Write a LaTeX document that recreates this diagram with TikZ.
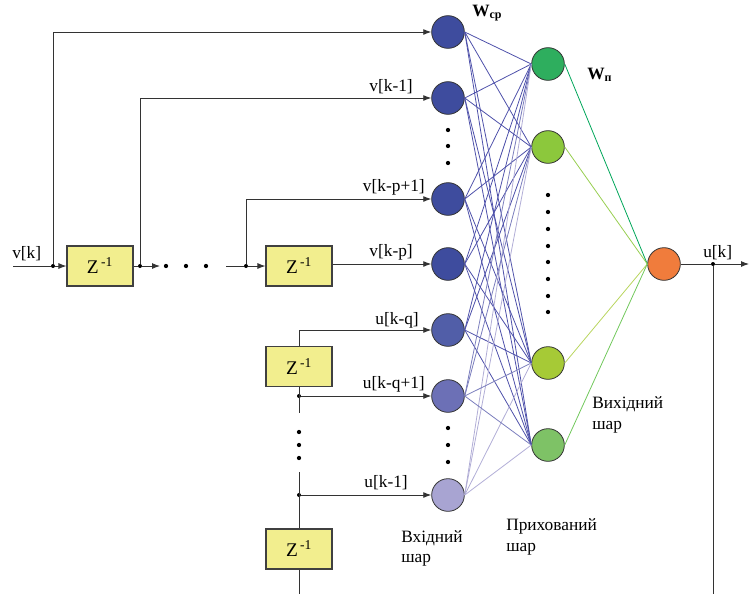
\documentclass[tikz,border=0pt]{standalone}
\usepackage{fontspec}
\setmainfont{Liberation Serif}
\usetikzlibrary{arrows.meta}
\definecolor{inblue}{HTML}{3E4C9E}
\definecolor{inmid}{HTML}{6C70B6}
\definecolor{inlight}{HTML}{A8A4D2}
\definecolor{hga}{HTML}{2EAE5E}
\definecolor{hgb}{HTML}{8CC83C}
\definecolor{hgc}{HTML}{A6CA36}
\definecolor{hgd}{HTML}{7EC266}
\definecolor{outor}{HTML}{F07C3C}
\definecolor{boxy}{HTML}{F2EE8E}
\definecolor{wblue}{HTML}{3A3EA0}
\begin{document}
\begin{tikzpicture}[x=0.75pt,y=-0.75pt,
  neuron/.style={circle,draw=black!80,line width=0.6pt,minimum size=24.5pt,inner sep=0pt},
  zbox/.style={draw=black!75,line width=0.8pt,fill=boxy,minimum width=49.5pt,minimum height=30pt,inner sep=0pt,font=\fontsize{14.5}{16}\selectfont},
  sig/.style={draw=black!80,line width=0.7pt},
  sigarrow/.style={sig,-{Latex[length=6pt,width=4.5pt]}},
  lbl/.style={inner sep=0pt,font=\fontsize{13}{15}\selectfont},
  jdot/.style={circle,fill=black,inner sep=0pt,minimum size=3pt},
  gdot/.style={circle,fill=black,inner sep=0pt,minimum size=3.2pt},
  wline/.style={line width=0.6pt}
]
\useasboundingbox (0,0) rectangle (749,594);

% input layer
\node[neuron,fill=inblue] (i1) at (448,32) {};
\node[neuron,fill=inblue] (i2) at (448,98) {};
\node[neuron,fill=inblue] (i3) at (448,199) {};
\node[neuron,fill=inblue] (i4) at (448,264) {};
\node[neuron,fill=inblue!90!white] (i5) at (448,330) {};
\node[neuron,fill=inmid] (i6) at (448,396) {};
\node[neuron,fill=inlight] (i7) at (448,495) {};

% hidden layer
\node[neuron,fill=hga] (h1) at (548,64) {};
\node[neuron,fill=hgb] (h2) at (548,147) {};
\node[neuron,fill=hgc] (h3) at (548,363) {};
\node[neuron,fill=hgd] (h4) at (548,445) {};

% output
\node[neuron,fill=outor] (o) at (664,264) {};

% weights input -> hidden
\foreach \i in {i1,i2,i3,i4,i5}{
  \foreach \h in {h1,h2,h3,h4}{
    \draw[wline,wblue!90] (\i.east) -- (\h.west);
  }
}
\foreach \h in {h1,h2,h3,h4}{
  \draw[wline,inmid!90] (i6.east) -- (\h.west);
  \draw[wline,inlight!90] (i7.east) -- (\h.west);
}
% hidden -> output
\draw[wline,teal!70!green] (h1.east) -- (o.west);
\draw[wline,hgb!90!white] (h2.east) -- (o.west);
\draw[wline,hgc!80!white] (h3.east) -- (o.west);
\draw[wline,hgd!90!green] (h4.east) -- (o.west);

% dots
\foreach \y [count=\n] in {130,146,163,428,445,462}{
  \node[gdot] (di\n) at (448,\y) {};
}
\foreach \y [count=\n] in {195,212,229,246,262,279,296,312}{
  \node[gdot] (dh\n) at (548,\y) {};
}

% delay boxes
\node[zbox] (z1) at (100,266) {Z\textsuperscript{\,-1}};
\node[zbox] (z2) at (299,266) {Z\textsuperscript{\,-1}};
\node[zbox] (z3) at (299,366.5) {Z\textsuperscript{\,-1}};
\node[zbox] (z4) at (299,549) {Z\textsuperscript{\,-1}};

% top chain
\coordinate (vin) at (13,266);
\node[jdot] (j1) at (53,266) {};
\node[jdot] (j2) at (140,266) {};
\coordinate (a2) at (160,266);
\node[gdot] (hd1) at (166,266) {};
\node[gdot] (hd2) at (186,266) {};
\node[gdot] (hd3) at (206,266) {};
\coordinate (b2) at (226,266);
\node[jdot] (j3) at (246,266) {};

\draw[sig] (vin) -- (j1);
\draw[sigarrow] (j1) -- (z1.west);
\draw[sigarrow] (j1) |- (i1.west);
\draw[sig] (z1.east) -- (j2);
\draw[sigarrow] (j2) -- (a2);
\draw[sigarrow] (j2) |- (i2.west);
\draw[sig] (b2) -- (j3);
\draw[sigarrow] (j3) -- (z2.west);
\draw[sigarrow] (j3) |- (i3.west);
\draw[sigarrow] (z2.east |- i4) -- (i4.west);

% bottom chain
\coordinate (c5) at (299,330);
\node[jdot] (j6) at (299,396) {};
\coordinate (e6) at (299,413);
\node[gdot] (vd1) at (299,432) {};
\node[gdot] (vd2) at (299,445) {};
\node[gdot] (vd3) at (299,458) {};
\coordinate (s7) at (299,472);
\node[jdot] (j7) at (299,495) {};
\coordinate (bot) at (299,594);

\draw[sig] (z3.north) -- (c5);
\draw[sigarrow] (c5) -- (i5.west);
\draw[sig] (z3.south) -- (e6);
\draw[sigarrow] (j6) -- (i6.west);
\draw[sig] (s7) -- (z4.north);
\draw[sigarrow] (j7) -- (i7.west);
\draw[sig] (z4.south) -- (bot);

% output
\node[jdot] (j8) at (713,264) {};
\coordinate (oend) at (749,264);
\coordinate (obot) at (713,594);
\draw[sig] (o.east) -- (j8);
\draw[sigarrow] (j8) -- (oend);
\draw[sig] (j8) -- (obot);

% labels
\node[lbl,anchor=base west] (lvk) at (12,258) {v[k]};
\node[lbl,anchor=base east] (l2) at (413,91) {v[k-1]};
\node[lbl,anchor=base east] (l3) at (425,191) {v[k-p+1]};
\node[lbl,anchor=base east] (l4) at (413,256) {v[k-p]};
\node[lbl,anchor=base east] (l5) at (419,324) {u[k-q]};
\node[lbl,anchor=base east] (l6) at (425,388) {u[k-q+1]};
\node[lbl,anchor=base east] (l7) at (408,487) {u[k-1]};
\node[lbl,anchor=base west] (luk) at (703,257) {u[k]};

\node[lbl,anchor=base west] (wcp) at (472,16) {\textbf{W}\raisebox{-0.3ex}{\fontsize{9}{10}\selectfont\bfseries ср}};
\node[lbl,anchor=base west] (wn) at (587,79) {\textbf{W}\raisebox{-0.3ex}{\fontsize{9}{10}\selectfont\bfseries п}};

\node[lbl,anchor=base west] (in1) at (401,542) {Вхідний};
\node[lbl,anchor=base west] (in2) at (401,562) {шар};
\node[lbl,anchor=base west] (hid1) at (506,530) {Прихований};
\node[lbl,anchor=base west] (hid2) at (506,551) {шар};
\node[lbl,anchor=base west] (out1) at (592,408) {Вихідний};
\node[lbl,anchor=base west] (out2) at (592,429) {шар};
\end{tikzpicture}
\end{document}
